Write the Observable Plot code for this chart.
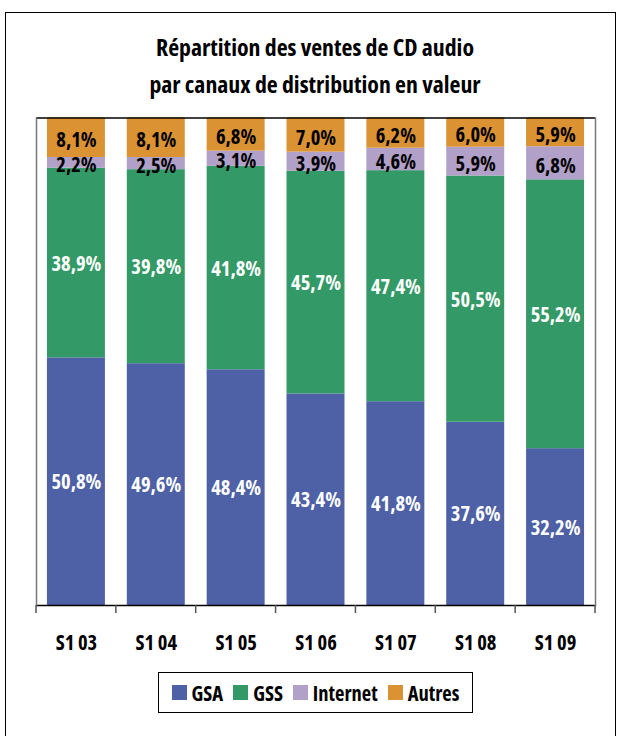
<!DOCTYPE html>
<html>
<head>
<meta charset="utf-8">
<script src="https://cdn.jsdelivr.net/npm/d3@7"></script>
<script src="https://cdn.jsdelivr.net/npm/@observablehq/plot@0.6"></script>
<style>
  html, body { margin: 0; padding: 0; background: #fff; }
  body { width: 622px; height: 736px; position: relative; overflow: hidden;
         font-family: "Open Sans", sans-serif; font-stretch: 75%; font-weight: bold; }
  #frame { position: absolute; left: 5px; top: 12px; width: 611px; height: 760px; border: 1.5px solid #000; box-sizing: border-box; }
  #title { position: absolute; left: 0; width: 630px; top: 29px; text-align: center; font-size: 23.8px; line-height: 37px; color: #000; }
  #chart { position: absolute; left: 0; top: 100px; }
  #legend { position: absolute; left: 158px; top: 672px; width: 315px; height: 41px; border: 1.5px solid #000; box-sizing: border-box;
            display: flex; align-items: center; justify-content: center; gap: 10px; font-size: 20.5px; font-stretch: 80%; }
  #legend .item { display: flex; align-items: center; gap: 5px; }
  #legend .sw { width: 15px; height: 15px; display: inline-block; }
  svg text { font-stretch: 85%; }
  svg g[aria-label="x-axis tick label"] text { font-stretch: 80%; }
</style>
</head>
<body>
<div id="frame"></div>
<div id="title">Répartition des ventes de CD audio<br>par canaux de distribution en valeur</div>
<div id="chart"></div>
<div id="legend"></div>
<script>
const categories = ["S1 03", "S1 04", "S1 05", "S1 06", "S1 07", "S1 08", "S1 09"];
const seriesNames = ["GSA", "GSS", "Internet", "Autres"];
const gsa = [50.8, 49.6, 48.4, 43.4, 41.8, 37.6, 32.2];
const gss = [38.9, 39.8, 41.8, 45.7, 47.4, 50.5, 55.2];
const internet = [2.2, 2.5, 3.1, 3.9, 4.6, 5.9, 6.8];
const autres = [8.1, 8.1, 6.8, 7.0, 6.2, 6.0, 5.9];
const colors = ["#4e60a6", "#339966", "#b1a0c7", "#da9232"];
const whiteLabelSeries = ["GSA", "GSS"];

const seriesValues = [gsa, gss, internet, autres];
const data = [];
seriesNames.forEach((s, si) => {
  categories.forEach((c, ci) => {
    data.push({ cat: c, series: s, value: seriesValues[si][ci] });
  });
});

const fmt = v => v.toFixed(1).replace(".", ",") + "%";
const font = '"Open Sans", sans-serif';

const stackOpts = { x: "cat", y: "value", z: "series", offset: "normalize", order: seriesNames };

const chart = Plot.plot({
  width: 622,
  height: 560,
  marginTop: 17.5,
  marginBottom: 55,
  marginLeft: 36,
  marginRight: 27,
  style: { fontFamily: font, fontWeight: "bold", background: "transparent", overflow: "visible" },
  x: { domain: categories, paddingInner: 0.274, paddingOuter: 0.137, round: false, label: null },
  y: { domain: [0, 1], axis: null },
  color: { domain: seriesNames, range: colors },
  marks: [
    Plot.barY(data, Plot.stackY({ ...stackOpts, fill: "series" })),
    Plot.text(data, Plot.stackY({ ...stackOpts,
      text: d => whiteLabelSeries.includes(d.series) ? fmt(d.value) : "",
      fill: "white", fontSize: 20.5, fontWeight: "bold", dy: 1 })),
    Plot.text(data, Plot.stackY({ ...stackOpts,
      text: d => whiteLabelSeries.includes(d.series) ? "" : fmt(d.value),
      fill: "black", fontSize: 20.5, fontWeight: "bold", dy: 3 })),
    Plot.axisX({ tickSize: 0, tickPadding: 30, fontSize: 20.5, fontWeight: "bold", fill: "black", label: null }),
    Plot.ruleY([0], { stroke: "#000", strokeWidth: 1.5 }),
    Plot.ruleY([1], { stroke: "#000", strokeWidth: 1.5 }),
    Plot.frame({ stroke: "#777", strokeWidth: 1.5, anchor: "left" }),
    Plot.frame({ stroke: "#777", strokeWidth: 1.5, anchor: "right" })
  ]
});
document.getElementById("chart").appendChild(chart);

// boundary ticks between categories, from the x scale
const xs = chart.scale("x");
const ys = chart.scale("y");
const half = xs.step / 2;
const y0 = ys.apply(0);
const bounds = categories.map(c => xs.apply(c) + xs.bandwidth / 2 - half);
bounds.push(xs.apply(categories[categories.length - 1]) + xs.bandwidth / 2 + half);
const svg = d3.select(chart);
svg.append("g").selectAll("line").data(bounds).join("line")
  .attr("x1", d => d).attr("x2", d => d)
  .attr("y1", y0).attr("y2", y0 + 8)
  .attr("stroke", "#555").attr("stroke-width", 1.5);

// legend
const legend = d3.select("#legend");
seriesNames.forEach((s, i) => {
  const it = legend.append("div").attr("class", "item");
  it.append("span").attr("class", "sw").style("background", colors[i]);
  it.append("span").text(s);
});
</script>
</body>
</html>
